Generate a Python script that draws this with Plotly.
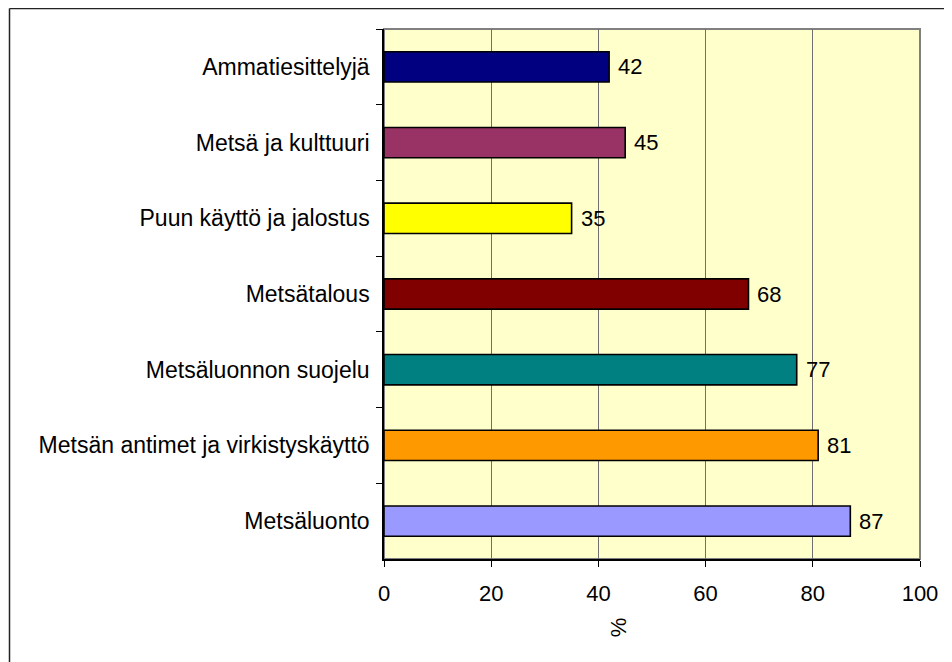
import plotly.graph_objects as go

# Data (top to bottom)
categories = [
    "Ammatiesittelyjä",
    "Metsä ja kulttuuri",
    "Puun käyttö ja jalostus",
    "Metsätalous",
    "Metsäluonnon suojelu",
    "Metsän antimet ja virkistyskäyttö",
    "Metsäluonto",
]
values = [42, 45, 35, 68, 77, 81, 87]
bar_colors = ["#000080", "#993366", "#FFFF00", "#800000", "#008080", "#FF9900", "#9999FF"]
x_ticks = [0, 20, 40, 60, 80, 100]

FONT = "Liberation Sans, Arial, sans-serif"

# page body has an 8px margin, so the figure is a bit smaller than the window
W, H = 944, 654
L, T, PW, PH = 376, 21, 536, 530

fig = go.Figure()
fig.add_trace(go.Bar(
    x=values,
    y=categories,
    orientation="h",
    width=0.4,
    marker=dict(color=bar_colors, line=dict(color="black", width=1.6)),
    showlegend=False,
    hoverinfo="x+y",
))

# value labels to the right of each bar
for cat, val in zip(categories, values):
    fig.add_annotation(
        x=val, y=cat, xref="x", yref="y",
        text=str(val), showarrow=False,
        xanchor="left", xshift=7,
        font=dict(family=FONT, size=22, color="black"),
    )

# rotated axis title
fig.add_annotation(
    x=0.437, y=0, xref="paper", yref="paper",
    yshift=-80, text="%", textangle=-90, showarrow=False,
    font=dict(family=FONT, size=22, color="black"),
)

# plot area border (grey)
fig.add_shape(type="rect", xref="paper", yref="paper", x0=0, x1=1, y0=0, y1=1,
              line=dict(color="#808080", width=2), layer="below")
# outer chart border: only top and left edges are inside the window
bx = (1.5 - L) / PW
by = 1 + (T - 0.5) / PH
fig.add_shape(type="line", xref="paper", yref="paper", x0=bx, x1=1.2, y0=by, y1=by,
              line=dict(color="#222222", width=1.5))
fig.add_shape(type="line", xref="paper", yref="paper", x0=bx, x1=bx, y0=by, y1=-0.5,
              line=dict(color="#222222", width=1.5))

fig.update_layout(
    width=W, height=H,
    margin=dict(l=L, r=W - L - PW, t=T, b=H - T - PH),
    paper_bgcolor="white",
    plot_bgcolor="#FFFFCC",
    font=dict(family=FONT, size=22, color="black"),
    bargap=0.6,
)

fig.update_xaxes(
    range=[0, 100], tickvals=x_ticks, ticks="outside", ticklen=6,
    tickcolor="black", showline=True, linecolor="black", linewidth=1.5,
    showgrid=True, gridcolor="#707070", gridwidth=1, zeroline=False,
    ticklabelstandoff=8,
)
fig.update_yaxes(
    autorange="reversed", ticks="outside", ticklen=6, tickson="boundaries",
    tickcolor="black", showline=True, linecolor="black", linewidth=1.5,
    showgrid=False, ticklabelstandoff=8, tickfont=dict(size=23),
)

fig.write_html("out.html")
